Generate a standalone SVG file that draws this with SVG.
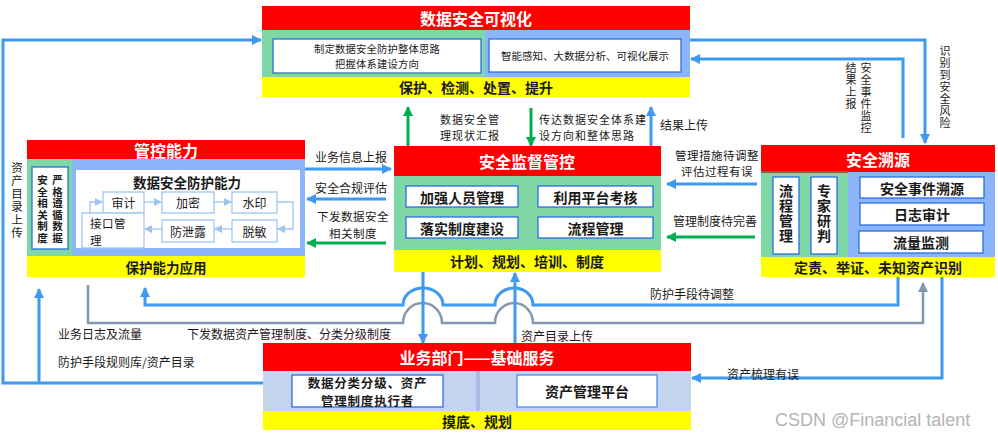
<svg xmlns="http://www.w3.org/2000/svg" width="998" height="436" viewBox="0 0 998 436">
<defs>
<style>
text{font-family:"Noto Sans CJK SC","Microsoft YaHei",sans-serif;dominant-baseline:central;fill:#1a1a1a}
.t{font-size:16px;font-weight:bold;fill:#fff;text-anchor:middle}
.y{font-size:14px;font-weight:bold;text-anchor:middle}
.b{font-size:14px;font-weight:bold;text-anchor:middle}
.s{font-size:12px;text-anchor:middle}
.l{font-size:12px}
.s2{font-size:11px;letter-spacing:1px;text-anchor:middle}
.l2{font-size:11px;letter-spacing:1px}
.v{font-size:11px;writing-mode:vertical-rl;text-anchor:start;letter-spacing:1px}
.vb{font-size:14px;font-weight:bold;writing-mode:vertical-rl;text-anchor:start;letter-spacing:1px}
.red{fill:#ff0000}.grn{fill:#7fd7a6}.blu{fill:#8cb4f9}.yel{fill:#ffff00}.lb{fill:#c5d4ee}
.wb{fill:#fff;stroke:#2a6fe0;stroke-width:1.3}
.wl{fill:#fff;stroke:#9ec5f2;stroke-width:1.3}
.cb{fill:none;stroke:#3d99f2;stroke-width:3}
.cg{fill:none;stroke:#00b050;stroke-width:3}
.cgy{fill:none;stroke:#8497b0;stroke-width:2.5}
.cl{fill:none;stroke:#9ec5f2;stroke-width:1.3}
</style>
<marker id="ab" markerUnits="userSpaceOnUse" markerWidth="10" markerHeight="10" refX="9" refY="5" orient="auto"><path d="M0,0 L10,5 L0,10 z" fill="#3d99f2"/></marker>
<marker id="ag" markerUnits="userSpaceOnUse" markerWidth="10" markerHeight="10" refX="9" refY="5" orient="auto"><path d="M0,0 L10,5 L0,10 z" fill="#00b050"/></marker>
<marker id="agy" markerUnits="userSpaceOnUse" markerWidth="10" markerHeight="10" refX="9" refY="5" orient="auto"><path d="M0,0 L10,5 L0,10 z" fill="#8497b0"/></marker>
<marker id="al" markerUnits="userSpaceOnUse" markerWidth="8" markerHeight="8" refX="7" refY="4" orient="auto"><path d="M0,0 L8,4 L0,8 z" fill="#9ec5f2"/></marker>
</defs>
<rect width="998" height="436" fill="#fff"/>

<g id="connectors">
<path class="cb" d="M269 383 H3 V40 H261" marker-end="url(#ab)" stroke-width="2.5"/>
<path class="cb" d="M39 383 V289" marker-end="url(#ab)" stroke-width="2.5"/>
<path class="cb" d="M690 40 H925 V143" marker-end="url(#ab)" stroke-width="2.5"/>
<path class="cb" d="M903 138 V59 H691" marker-end="url(#ab)" stroke-width="2.5"/>
<path class="cb" d="M305 169 H391" marker-end="url(#ab)"/>
<path class="cb" d="M386 199 H307" marker-end="url(#ab)"/>
<path class="cg" d="M386 243 H307" marker-end="url(#ag)"/>
<path class="cb" d="M757 184 H667" marker-end="url(#ab)"/>
<path class="cg" d="M755 237 H667" marker-end="url(#ag)"/>
<path class="cg" d="M408 146 V107" marker-end="url(#ag)"/>
<path class="cg" d="M531 108 V146" marker-end="url(#ag)"/>
<path class="cb" d="M651 146 V107" marker-end="url(#ab)"/>
<path class="cgy" d="M88 285 V323 H403 A19.5 20 0 0 1 442 323 H495 A19 20 0 0 1 533 323 H923 V283" marker-end="url(#agy)"/>
<path class="cb" stroke-width="2.5" d="M898 277 V305 H533 A19 17 0 0 0 495 305 H443 A20 17 0 0 0 403 305 H145 V288" marker-end="url(#ab)"/>
<path class="cb" stroke-width="2.5" d="M423 272 V343" marker-end="url(#ab)"/>
<path class="cb" stroke-width="2.5" d="M515 343 V273" marker-end="url(#ab)"/>
<path class="cb" stroke-width="2.5" d="M942 277 V378 H692" marker-end="url(#ab)"/>

<text class="v" x="17" y="162" style="font-size:11.5px;letter-spacing:1.5px">资产目录上传</text>
<text class="v" x="945" y="45.5">识别到安全风险</text>
<text class="v" x="866" y="62.5">安全事件监控</text>
<text class="v" x="851" y="62.5">结果上报</text>
<text class="s2" x="470" y="119">数据安全管</text>
<text class="s2" x="470" y="135">理现状汇报</text>
<text class="l2" x="539" y="118.5">传达数据安全体系建</text>
<text class="l2" x="539" y="134.5">设方向和整体思路</text>
<text class="l" x="660" y="124">结果上传</text>
<text class="s" x="351" y="156">业务信息上报</text>
<text class="s" x="351" y="187">安全合规评估</text>
<text class="s2" x="353" y="216" style="font-size:11.5px;letter-spacing:0.5px">下发数据安全</text>
<text class="s2" x="353" y="233" style="font-size:11.5px;letter-spacing:0.5px">相关制度</text>
<text class="s2" x="717" y="154.5" style="font-size:11.5px;letter-spacing:0.5px">管理措施待调整</text>
<text class="s2" x="717" y="171" style="font-size:11.5px;letter-spacing:0.5px">评估过程有误</text>
<text class="s" x="715" y="220">管理制度待完善</text>
<text class="l" x="650" y="293">防护手段待调整</text>
<text class="l" x="58" y="333">业务日志及流量</text>
<text class="l" x="187" y="333">下发数据资产管理制度、分类分级制度</text>
<text class="l" x="58" y="361">防护手段规则库/资产目录</text>
<text class="l" x="521" y="335">资产目录上传</text>
<text class="l" x="727" y="373">资产梳理有误</text>
</g>

<g id="node-visual">
<rect class="red" x="262" y="6" width="428" height="24"/>
<rect class="grn" x="262" y="30" width="223" height="47"/>
<rect class="blu" x="485" y="30" width="205" height="47"/>
<rect class="yel" x="262" y="77" width="428" height="20"/>
<text class="t" x="476" y="18">数据安全可视化</text>
<rect class="wb" x="273" y="39" width="208" height="34"/>
<text x="377" y="48.5" font-size="10.3" letter-spacing="0.2" text-anchor="middle">制定数据安全防护整体思路</text>
<text x="377" y="63.5" font-size="10.3" letter-spacing="0.2" text-anchor="middle">把握体系建设方向</text>
<rect class="wb" x="489" y="39" width="192" height="33"/>
<text x="585" y="55.5" font-size="10.5" text-anchor="middle">智能感知、大数据分析、可视化展示</text>
<text class="y" x="476" y="87">保护、检测、处置、提升</text>
</g>

<g id="node-control">
<rect class="red" x="27" y="140" width="278" height="19"/>
<rect class="grn" x="27" y="159" width="45" height="97"/>
<rect class="blu" x="72" y="159" width="233" height="97"/>
<rect class="yel" x="27" y="256" width="278" height="21"/>
<text class="t" x="166" y="150">管控能力</text>
<rect class="wb" x="32" y="167" width="36" height="82"/>
<text class="v" x="42.5" y="174.75" style="font-size:10.5px;font-weight:bold;letter-spacing:1.1px">安全相关制度</text>
<text class="v" x="57.5" y="174.75" style="font-size:10.5px;font-weight:bold;letter-spacing:1.1px">严格遵循数据</text>
<rect x="76" y="170" width="224" height="78" fill="#fff"/>
<text x="187" y="182" font-size="13.5" font-weight="bold" text-anchor="middle">数据安全防护能力</text>
<path class="cl" d="M90 213 V202 H102" marker-end="url(#al)"/>
<path class="cl" d="M144 202 H161" marker-end="url(#al)"/>
<path class="cl" d="M214 202 H231" marker-end="url(#al)"/>
<path class="cl" d="M277 202 H293 V229 H278" marker-end="url(#al)"/>
<path class="cl" d="M232 229 H215" marker-end="url(#al)"/>
<path class="cl" d="M162 229 H145" marker-end="url(#al)"/>
<rect class="wl" x="103" y="192" width="41" height="21"/>
<rect class="wl" x="162" y="192" width="52" height="21"/>
<rect class="wl" x="232" y="192" width="45" height="21"/>
<rect class="wl" x="232" y="220" width="45" height="22"/>
<rect class="wl" x="162" y="220" width="52" height="22"/>
<rect class="wl" x="82" y="213" width="62" height="35"/>
<text class="s" x="123.5" y="202.5">审计</text>
<text class="s" x="188" y="202.5">加密</text>
<text class="s" x="254.5" y="202.5">水印</text>
<text class="s" x="254.5" y="231">脱敏</text>
<text class="s" x="188" y="231">防泄露</text>
<text class="l" x="90" y="223" style="font-size:11.5px;letter-spacing:0.5px">接口管</text>
<text class="l" x="90" y="240" style="font-size:11.5px">理</text>
<text x="166" y="266.5" font-size="13.5" font-weight="bold" text-anchor="middle">保护能力应用</text>
</g>

<g id="node-supervise">
<rect class="red" x="394" y="146" width="267" height="30"/>
<rect class="grn" x="394" y="176" width="267" height="74"/>
<rect class="yel" x="394" y="250" width="267" height="22"/>
<text class="t" x="527" y="161">安全监督管控</text>
<rect class="wb" x="406" y="186" width="112" height="21"/>
<rect class="wb" x="538" y="186" width="115" height="21"/>
<rect class="wb" x="406" y="217" width="112" height="21"/>
<rect class="wb" x="538" y="217" width="115" height="21"/>
<text class="b" x="462" y="196.5">加强人员管理</text>
<text class="b" x="595.5" y="196.5">利用平台考核</text>
<text class="b" x="462" y="227.5">落实制度建设</text>
<text class="b" x="595.5" y="227.5">流程管理</text>
<text class="y" x="527" y="261">计划、规划、培训、制度</text>
</g>

<g id="node-trace">
<rect class="red" x="761" y="145" width="234" height="27"/>
<rect class="grn" x="761" y="172" width="87" height="85"/>
<rect class="blu" x="848" y="172" width="147" height="85"/>
<rect x="761" y="171" width="87" height="2" fill="#7a6a3a"/>
<rect class="yel" x="761" y="257" width="234" height="20"/>
<text class="t" x="878" y="158.5">安全溯源</text>
<rect class="wb" x="773" y="177" width="26" height="77"/>
<rect class="wb" x="811" y="177" width="26" height="77"/>
<text class="vb" x="786" y="184">流程管理</text>
<text class="vb" x="824" y="184">专家研判</text>
<rect class="wb" x="860" y="177" width="124" height="21"/>
<rect class="wb" x="860" y="203" width="124" height="22"/>
<rect class="wb" x="859" y="231" width="124" height="22"/>
<text class="b" x="922" y="187.5">安全事件溯源</text>
<text class="b" x="922" y="214">日志审计</text>
<text class="b" x="921" y="242">流量监测</text>
<text class="y" x="878" y="267">定责、举证、未知资产识别</text>
</g>

<g id="node-business">
<rect class="red" x="263" y="343" width="428" height="28"/>
<rect class="lb" x="263" y="371" width="428" height="40"/>
<rect x="476" y="371" width="4" height="40" fill="#a9bde0"/>
<rect class="yel" x="263" y="411" width="428" height="19"/>
<text class="t" x="477" y="357">业务部门——基础服务</text>
<rect class="wb" x="292" y="375" width="151" height="32"/>
<text x="367.5" y="382" font-size="12.5" letter-spacing="0.8" font-weight="bold" text-anchor="middle">数据分类分级、资产</text>
<text x="367.5" y="400" font-size="12.5" letter-spacing="0.8" font-weight="bold" text-anchor="middle">管理制度执行者</text>
<rect x="517" y="375" width="140" height="32" fill="#fff" stroke="#4a8ff0" stroke-width="1.3"/>
<text class="b" x="587" y="391">资产管理平台</text>
<text class="y" x="477" y="420.5">摸底、规划</text>
</g>

<text x="775" y="420" style="font-family:'Liberation Sans',Arial,sans-serif;font-size:18px;fill:#b4b4b4">CSDN @Financial talent</text>
</svg>
